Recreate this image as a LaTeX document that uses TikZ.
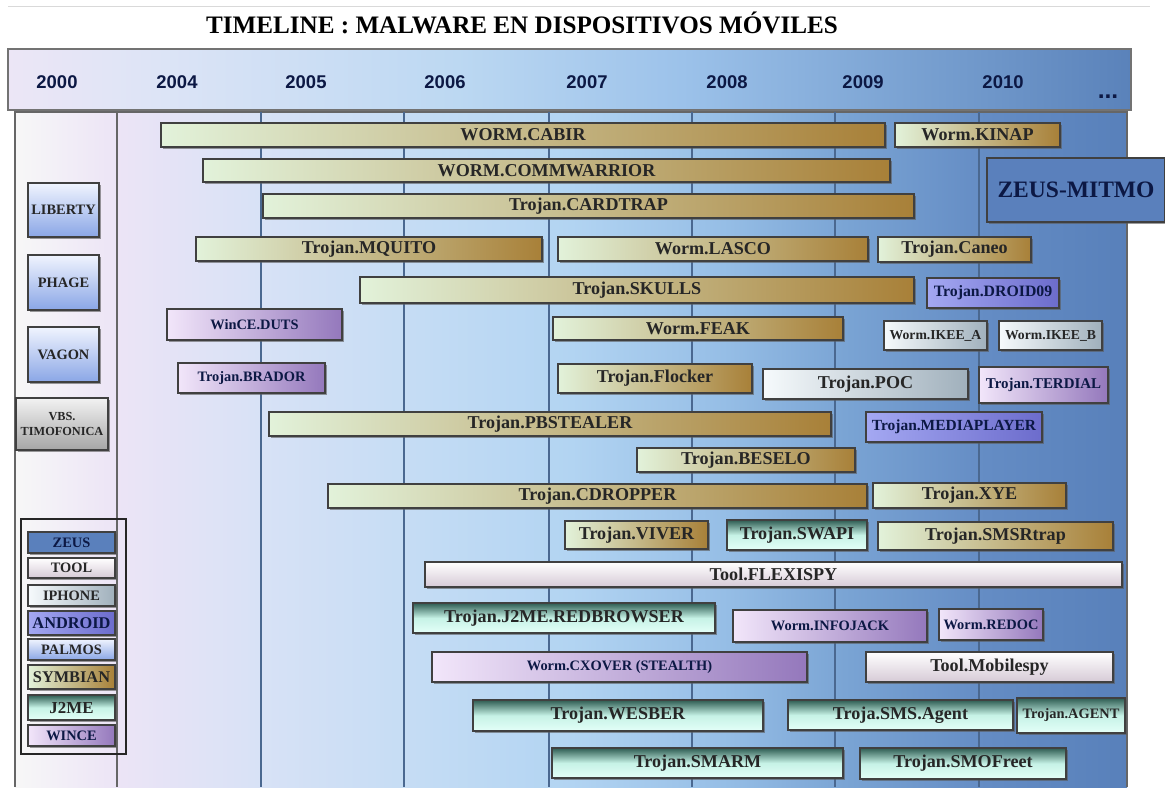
\documentclass[tikz,border=0pt]{standalone}
\usepackage{fontspec}
\setmainfont{Liberation Serif}
\newfontfamily\yearfont{Liberation Sans}
\usetikzlibrary{shadows}
\definecolor{symL}{HTML}{E2F2DA}
\definecolor{symR}{HTML}{A88038}
\definecolor{winL}{HTML}{F2E6FA}
\definecolor{winR}{HTML}{9478BC}
\definecolor{andL}{HTML}{A4A8F2}
\definecolor{andR}{HTML}{6C6CCC}
\definecolor{toolB}{HTML}{D6CAD6}
\definecolor{iphL}{HTML}{F6FAFC}
\definecolor{iphR}{HTML}{A0B0BC}
\definecolor{palT}{HTML}{F0F4FE}
\definecolor{palB}{HTML}{8AA6E6}
\definecolor{jmeT}{HTML}{2E5C52}
\definecolor{jmeM}{HTML}{C6F2E6}
\definecolor{jmeB}{HTML}{E4FFF8}
\definecolor{zeusC}{HTML}{5A80BC}
\definecolor{navy}{HTML}{0C1844}
\definecolor{gridC}{HTML}{4A6890}
\definecolor{hd0}{HTML}{ECE6F6}
\definecolor{hd1}{HTML}{DCE4F6}
\definecolor{hd2}{HTML}{BCD8F2}
\definecolor{hd3}{HTML}{9CC2EA}
\definecolor{hd4}{HTML}{7AA2D2}
\definecolor{hd5}{HTML}{5A82BA}
\definecolor{pn0}{HTML}{ECE4F6}
\definecolor{pn1}{HTML}{D8E2F6}
\definecolor{pn2}{HTML}{C4DCF4}
\definecolor{pn3}{HTML}{B2D4F2}
\definecolor{pn4}{HTML}{96BEE6}
\definecolor{pn5}{HTML}{7AA4D4}
\definecolor{pn6}{HTML}{648CC4}
\definecolor{pn7}{HTML}{5880BA}
\pgfdeclarehorizontalshading{headshade}{100bp}{color(0bp)=(hd0); color(25bp)=(hd0); color(32bp)=(hd1); color(45bp)=(hd2); color(55bp)=(hd3); color(65bp)=(hd4); color(75bp)=(hd5); color(100bp)=(hd5)}
\pgfdeclarehorizontalshading{panelshade}{100bp}{color(0bp)=(pn0); color(25bp)=(pn0); color(32bp)=(pn1); color(40bp)=(pn2); color(47.5bp)=(pn3); color(55bp)=(pn4); color(61bp)=(pn5); color(68bp)=(pn6); color(75bp)=(pn7); color(100bp)=(pn7)}
\begin{document}
\begin{tikzpicture}[x=0.02cm,y=-0.02cm,
  barsize/.style 2 args={minimum width=#1*0.02cm, minimum height=#2*0.02cm},
  malware/.style={draw=black!75, line width=0.8pt, inner sep=0pt, text=black!85,
    font=\bfseries\fontsize{10.3}{11}\selectfont,
    drop shadow={shadow xshift=1.4pt, shadow yshift=-1.4pt, opacity=0.6, fill=black!65}},
  smalltext/.style={font=\bfseries\fontsize{8.2}{9}\selectfont},
  symbianbar/.style={malware, left color=symL, right color=symR},
  wincebar/.style={malware, left color=winL, right color=winR, text=navy},
  androidbar/.style={malware, left color=andL, right color=andR, text=navy},
  toolbar/.style={malware, top color=white, bottom color=toolB},
  iphonebar/.style={malware, left color=iphL, right color=iphR},
  palmosbar/.style={malware, top color=palT, bottom color=palB},
  jmebar/.style={malware, top color=jmeT, bottom color=jmeB, middle color=jmeM},
  zeusbar/.style={malware, fill=zeusC, text=navy},
  graybar/.style={malware, top color=black!5, bottom color=black!35},
  yearlabel/.style={font=\yearfont\bfseries\fontsize{10.5}{12}\selectfont, text=navy}]
\useasboundingbox (0,0) rectangle (1165,787);
\fill[white] (0,0) rectangle (1165,787);
\draw[black!15] (8,6) -- (1150,6);
\node[font=\bfseries\fontsize{14.3}{16}\selectfont] (title) at (522,23) {TIMELINE : MALWARE EN DISPOSITIVOS MÓVILES};
\shade[shading=headshade, draw=black!55, line width=0.8pt] (8,49) rectangle (1131,110);
\node[yearlabel] (y2000) at (57,82) {2000};
\node[yearlabel] (y2004) at (177,82) {2004};
\node[yearlabel] (y2005) at (306,82) {2005};
\node[yearlabel] (y2006) at (445,82) {2006};
\node[yearlabel] (y2007) at (587,82) {2007};
\node[yearlabel] (y2008) at (727,82) {2008};
\node[yearlabel] (y2009) at (863,82) {2009};
\node[yearlabel] (y2010) at (1003,82) {2010};
\node[yearlabel, font=\yearfont\bfseries\fontsize{14}{14}\selectfont] (ymore) at (1108,97) {...};
\shade[left color=black!3, right color=pn0] (15,112) rectangle (117,787);
\shade[shading=panelshade] (117,112) rectangle (1127,787);
\draw[black!60, line width=0.8pt] (15,787) -- (15,112) -- (1127,112) -- (1127,787);
\draw[black!60, line width=0.8pt] (117,112) -- (117,787);
\foreach \x in {261,404,549,692,835,979}
  \draw[gridC, line width=0.9pt] (\x,112) -- (\x,787);
\node[palmosbar, smalltext, barsize={71}{54}] (liberty) at (63.5,210) {LIBERTY};
\node[palmosbar, smalltext, barsize={71}{55}] (phage) at (63.5,282.5) {PHAGE};
\node[palmosbar, smalltext, barsize={71}{55}] (vagon) at (63.5,354.5) {VAGON};
\node[graybar, align=center, font=\bfseries\fontsize{7}{8}\selectfont, barsize={92}{52}] (timofonica) at (62,424) {VBS.\\TIMOFONICA};
\node[draw=black!85, line width=0.9pt, inner sep=0pt, barsize={105}{235}] (legendframe) at (73.5,636.5) {};
\node[zeusbar, smalltext, barsize={87}{21}] (lzeus) at (71.5,542.5) {ZEUS};
\node[toolbar, smalltext, barsize={87}{20}] (ltool) at (71.5,568) {TOOL};
\node[iphonebar, smalltext, barsize={87}{21}] (liphone) at (71.5,595.5) {IPHONE};
\node[androidbar, font=\bfseries\fontsize{9.3}{10}\selectfont, barsize={87}{24}] (landroid) at (71.5,623) {ANDROID};
\node[palmosbar, smalltext, barsize={87}{21}] (lpalmos) at (71.5,649.5) {PALMOS};
\node[symbianbar, font=\bfseries\fontsize{9.3}{10}\selectfont, barsize={87}{24}] (lsymbian) at (71.5,677) {SYMBIAN};
\node[jmebar, font=\bfseries\fontsize{9.6}{10}\selectfont, barsize={87}{25}] (ljme) at (71.5,707.5) {J2ME};
\node[wincebar, smalltext, barsize={87}{21}] (lwince) at (71.5,735.5) {WINCE};
\node[symbianbar, barsize={724}{24}] (cabir) at (523,135) {WORM.CABIR};
\node[symbianbar, barsize={165}{24}] (kinap) at (977.5,135) {Worm.KINAP};
\node[symbianbar, barsize={687}{23}] (commwarrior) at (546.5,170.5) {WORM.COMMWARRIOR};
\node[zeusbar, font=\bfseries\fontsize{13.4}{15}\selectfont, barsize={178}{64}] (zeusmitmo) at (1076,190) {ZEUS-MITMO};
\node[symbianbar, barsize={651}{24}] (cardtrap) at (588.5,206) {Trojan.CARDTRAP};
\node[symbianbar, barsize={346}{24}] (mquito) at (369,249) {Trojan.MQUITO};
\node[symbianbar, barsize={310}{24}] (lasco) at (713,249) {Worm.LASCO};
\node[symbianbar, barsize={153}{25}] (caneo) at (954.5,249.5) {Trojan.Caneo};
\node[symbianbar, barsize={554}{26}] (skulls) at (637,290) {Trojan.SKULLS};
\node[androidbar, font=\bfseries\fontsize{9}{10}\selectfont, barsize={132}{30}] (droid) at (993,293) {Trojan.DROID09};
\node[wincebar, smalltext, barsize={175}{31}] (duts) at (254.5,324.5) {WinCE.DUTS};
\node[symbianbar, barsize={290}{23}] (feak) at (698,328.5) {Worm.FEAK};
\node[iphonebar, font=\bfseries\fontsize{7.8}{9}\selectfont, barsize={103}{29}] (ikeea) at (935.5,335.5) {Worm.IKEE\_A};
\node[iphonebar, font=\bfseries\fontsize{7.8}{9}\selectfont, barsize={103}{29}] (ikeeb) at (1050.5,335.5) {Worm.IKEE\_B};
\node[wincebar, smalltext, barsize={147}{30}] (brador) at (251.5,378) {Trojan.BRADOR};
\node[symbianbar, barsize={194}{29}] (flocker) at (655,378.5) {Trojan.Flocker};
\node[iphonebar, barsize={205}{30}] (poc) at (865.5,384) {Trojan.POC};
\node[wincebar, font=\bfseries\fontsize{8.5}{9}\selectfont, barsize={129}{36}] (terdial) at (1043.5,385) {Trojan.TERDIAL};
\node[symbianbar, barsize={562}{24}] (pbstealer) at (550,424) {Trojan.PBSTEALER};
\node[androidbar, font=\bfseries\fontsize{8.8}{9}\selectfont, barsize={176}{30}] (mediaplayer) at (954,427) {Trojan.MEDIAPLAYER};
\node[symbianbar, barsize={218}{24}] (beselo) at (746,460) {Trojan.BESELO};
\node[symbianbar, barsize={539}{24}] (cdropper) at (597.5,496) {Trojan.CDROPPER};
\node[symbianbar, barsize={193}{25}] (xye) at (969.5,495.5) {Trojan.XYE};
\node[symbianbar, barsize={143}{28}] (viver) at (636.5,535) {Trojan.VIVER};
\node[jmebar, barsize={140}{30}] (swapi) at (797,535) {Trojan.SWAPI};
\node[symbianbar, barsize={235}{28}] (smsrtrap) at (995.5,536) {Trojan.SMSRtrap};
\node[toolbar, barsize={697}{25}] (flexispy) at (773.5,574.5) {Tool.FLEXISPY};
\node[jmebar, barsize={302}{30}] (redbrowser) at (564,618) {Trojan.J2ME.REDBROWSER};
\node[wincebar, smalltext, barsize={194}{32}] (infojack) at (830,626) {Worm.INFOJACK};
\node[wincebar, smalltext, barsize={104}{31}] (redoc) at (991,624.5) {Worm.REDOC};
\node[wincebar, smalltext, barsize={375}{30}] (cxover) at (619.5,667) {Worm.CXOVER (STEALTH)};
\node[toolbar, barsize={247}{30}] (mobilespy) at (989.5,667) {Tool.Mobilespy};
\node[jmebar, barsize={290}{31}] (wesber) at (618,715.5) {Trojan.WESBER};
\node[jmebar, barsize={225}{30}] (smsagent) at (900.5,715) {Troja.SMS.Agent};
\node[jmebar, smalltext, barsize={108}{35}] (agent) at (1071,715.5) {Trojan.AGENT};
\node[jmebar, barsize={291}{30}] (smarm) at (697.5,763) {Trojan.SMARM};
\node[jmebar, barsize={206}{31}] (smofreet) at (963,763.5) {Trojan.SMOFreet};
\end{tikzpicture}
\end{document}
